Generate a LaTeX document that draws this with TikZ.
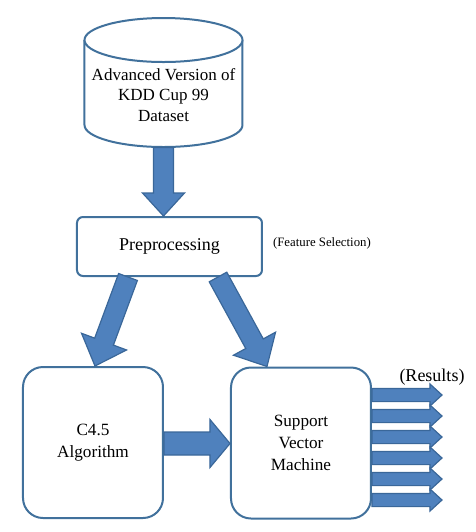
\documentclass[tikz,border=0pt]{standalone}
\usepackage{fontspec}
\setmainfont{Liberation Serif}
\usetikzlibrary{calc,positioning}

\definecolor{arrowfill}{HTML}{4F81BD}
\definecolor{arrowline}{HTML}{3A6799}
\definecolor{boxline}{HTML}{41719C}

% block arrow: tail, tip, shaft half width, head half width, head length
\newcommand{\blockarrow}[5]{%
  \path ($(#2)!#5!(#1)$) coordinate (ah);
  \draw[barrow] ($(#1)!#3!90:(#2)$) -- ($(ah)!#3!90:(#2)$)
    -- ($(ah)!#4!90:(#2)$) -- (#2) -- ($(ah)!#4!-90:(#2)$)
    -- ($(ah)!#3!-90:(#2)$) -- ($(#1)!#3!-90:(#2)$) -- cycle;}

\begin{document}
\begin{tikzpicture}[
    x=0.5pt, y=-0.5pt,
    font=\fontsize{8.6pt}{11pt}\selectfont,
    box/.style={
      draw=boxline, line width=1pt, fill=white, align=center,
      inner sep=0pt
    },
    bigbox/.style={box, rounded corners=10pt,
      minimum width=70pt, minimum height=75.5pt},
    barrow/.style={fill=arrowfill, draw=arrowline, line width=0.6pt,
      line join=miter}
  ]
    \useasboundingbox (0,0) rectangle (476,532);

    % dataset cylinder
    \node[minimum width=79pt, minimum height=64.5pt, inner sep=0pt] (db) at (163.5,82.5) {};
    \draw[box] (84.5,40) -- (84.5,125)
      arc[start angle=180, end angle=0, x radius=79, y radius=22]
      -- (242.5,40);
    \draw[box] (163.5,40) ellipse[x radius=79, y radius=22];
    \node[align=center, font=\fontsize{8.5pt}{10.2pt}\selectfont] (dbtext) at (163.5,95)
      {Advanced Version of\\KDD Cup 99\\Dataset};

    \node[box, rounded corners=3pt, minimum width=92.5pt, minimum height=29.5pt,
      font=\fontsize{9pt}{11pt}\selectfont] (pre) at (169.5,246.5) {Preprocessing};
    \node[font=\fontsize{6.4pt}{8pt}\selectfont, anchor=west] (fs) at (266,243) {(Feature Selection)};

    \node[bigbox] (c45) at (93,442.5) {C4.5\\Algorithm};
    \node[bigbox] (svm) at (301,443) {Support\\Vector\\Machine};
    \node[font=\fontsize{9pt}{11pt}\selectfont] (res) at (432,377) {(Results)};

    % arrows
    \coordinate (t0) at (db.south);
    \coordinate (h0) at (db.south |- pre.north);
    \blockarrow{t0}{h0}{5pt}{10.5pt}{11.5pt}

    \coordinate (t1) at ($(pre.south)+(-41.5,0)$);
    \coordinate (h1) at ($(c45.north)+(2,0)$);
    \blockarrow{t1}{h1}{5pt}{12pt}{13pt}

    \coordinate (t2) at ($(pre.south)+(48.5,0)$);
    \coordinate (h2) at ($(svm.north)+(-34,0)$);
    \blockarrow{t2}{h2}{5pt}{12pt}{13pt}

    \coordinate (t3) at (c45.east |- 0,443.5);
    \coordinate (h3) at (svm.west |- 0,443.5);
    \blockarrow{t3}{h3}{5.75pt}{12pt}{10pt}

    \foreach \dy [count=\i] in {-48,-27,-6,15,36,57} {
      \coordinate (o\i) at ($(svm.east)+(0,\dy)$);
      \coordinate (r\i) at ($(o\i)+(70,0)$);
      \blockarrow{o\i}{r\i}{3.3pt}{5.5pt}{6pt}
    }
  \end{tikzpicture}
\end{document}
